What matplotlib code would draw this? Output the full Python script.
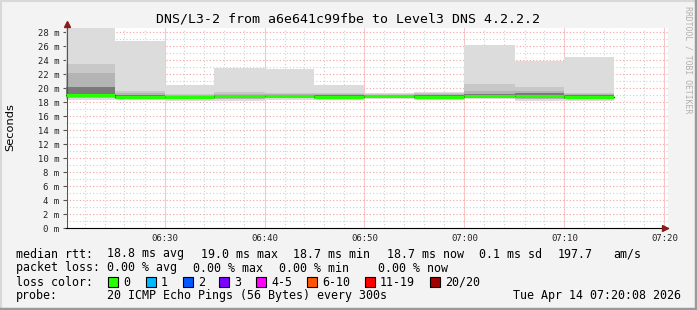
import matplotlib
matplotlib.use("Agg")
import matplotlib.pyplot as plt
from matplotlib.patches import Rectangle
from matplotlib.lines import Line2D

W, H = 697, 310

# ---------------- data ----------------
block_start = ["06:20", "06:25", "06:30", "06:35", "06:40", "06:45",
               "06:50", "06:55", "07:00", "07:05", "07:10"]
block_minutes = 5
rtt_max = [28.9, 26.7, 20.5, 22.8, 22.7, 20.4, 19.25, 19.5, 26.1, 23.9, 24.5]
rtt_hi3 = [23.4, 19.6, 19.2, 19.4, 19.3, 19.3, 19.1, 19.3, 20.6, 20.1, 19.3]
rtt_hi2 = [22.1, 19.3, 19.0, 19.2, 19.2, 19.1, 19.0, 19.1, 19.6, 19.6, 19.2]
rtt_hi1 = [20.1, 19.0, 18.8, 19.05, 19.05, 18.95, 18.95, 19.0, 19.1, 19.3, 19.05]
rtt_median = [19.0, 18.75, 18.65, 18.85, 18.9, 18.7, 18.85, 18.75, 18.8, 18.85, 18.65]
rtt_lo1 = [18.7, 18.6, 18.55, 18.6, 18.75, 18.6, 18.7, 18.65, 18.7, 18.7, 18.5]
rtt_lo2 = [18.6, 18.5, 18.45, 18.4, 18.6, 18.5, 18.6, 18.55, 18.6, 18.5, 18.4]
rtt_min = [18.3, 18.3, 18.2, 18.1, 18.3, 18.3, 18.4, 18.35, 18.4, 18.1, 18.2]

xtick_labels = ["06:30", "06:40", "06:50", "07:00", "07:10", "07:20"]
ytick_values = [0, 2, 4, 6, 8, 10, 12, 14, 16, 18, 20, 22, 24, 26, 28]

title = "DNS/L3-2 from a6e641c99fbe to Level3 DNS 4.2.2.2"
loss_labels = ["0", "1", "2", "3", "4-5", "6-10", "11-19", "20/20"]
loss_colors = ["#26ff00", "#00b8ff", "#0059ff", "#7e00ff", "#ff00ff",
               "#ff5500", "#ff0000", "#a10000"]


def to_min(s):
    h, m = s.split(":")
    return (int(h) - 6) * 60 + int(m) - 20  # minutes after 06:20


starts = [to_min(s) for s in block_start]
xticks = [to_min(s) for s in xtick_labels]

# ---------------- figure ----------------
fig = plt.figure(figsize=(W / 100, H / 100), dpi=100)
fig.patch.set_facecolor("#f3f3f3")

ax_l, ax_r, ax_t, ax_b = 66, 668, 27.7, 228
ax = fig.add_axes([ax_l / W, 1 - ax_b / H, (ax_r - ax_l) / W, (ax_b - ax_t) / H])
ax.set_facecolor("white")
x0 = (ax_l - 64.5) / 10.0
x1 = (ax_r - 64.5) / 10.0
ax.set_xlim(x0, x1)
ax.set_ylim(0, (ax_b - ax_t) / 7.0)

# grid
red = "#f2a0a0"
gray = "#d0d0d0"
dot = (0, (1, 2))
for v in range(1, 29):
    ax.axhline(v, color=red if v % 2 == 0 else gray, lw=0.8, ls=dot, zorder=1)
m = 0
while m <= 60:
    if m > x0:
        ax.axvline(m, color=red if m % 10 == 0 else gray, lw=0.8,
                   ls=dot if m % 10 else "-", zorder=1, alpha=1 if m % 10 else 0.6)
    m += 2

# smoke (step areas)
xs_step = [max(starts[0], x0)] + [s + block_minutes for s in starts]


def step(vals):
    return list(vals) + [vals[-1]]


layers = [(rtt_min, rtt_max, "#dcdcdc"),
          (rtt_lo2, rtt_hi3, "#c8c8c8"),
          (rtt_lo2, rtt_hi2, "#b4b4b4"),
          (rtt_lo1, rtt_hi1, "#7a7a7a")]
for lo, hi, c in layers:
    ax.fill_between(xs_step, step(lo), step(hi), step="post", facecolor=c,
                    edgecolor="none", lw=0, zorder=2)

# median
ax.step(xs_step, step(rtt_median), where="post", color="black", lw=0.8, zorder=3)
for s, v in zip(starts, rtt_median):
    ax.hlines(v, max(s, x0), s + block_minutes, color=loss_colors[0], lw=2.2, zorder=4)

# axes styling
for sp in ["top", "right"]:
    ax.spines[sp].set_visible(False)
ax.spines["left"].set_color("#555555")
ax.spines["left"].set_position(("data", x0 + 0.05))
ax.spines["bottom"].set_color("black")
ax.set_yticks(ytick_values)
ax.set_yticklabels([f"{v} m" for v in ytick_values])
ax.set_xticks(xticks)
ax.set_xticklabels(xtick_labels)
ax.tick_params(axis="y", length=3, width=0.8, color="#555555", pad=2,
               labelsize=6.4, labelcolor="#222222")
ax.tick_params(axis="x", length=0, pad=4, labelsize=6.4, labelcolor="#222222")
for lab in ax.get_xticklabels() + ax.get_yticklabels():
    lab.set_family("DejaVu Sans Mono")

# arrows
ax.plot([x0 + 0.05], [1.02], marker="^", color="#8b1a1a", ms=4.5,
        transform=ax.get_xaxis_transform(), clip_on=False, zorder=5)
ax.plot([60.1], [0], marker=">", color="#8b1a1a", ms=4.5, clip_on=False, zorder=5)


def ftext(x, y, s, **kw):
    kw.setdefault("family", "DejaVu Sans Mono")
    kw.setdefault("fontsize", 8.35)
    kw.setdefault("va", "center")
    fig.text(x / W, 1 - y / H, s, **kw)


ftext(348.5, 19, title, fontsize=9.5, ha="center")
ftext(10.5, 127, "Seconds", family="DejaVu Sans", fontsize=8.2, rotation=90, ha="center")
ftext(688, 60, "RRDTOOL / TOBI OETIKER", fontsize=5.9, rotation=270, ha="center",
      color="#b0b0b0")

# legend lines
ftext(16, 254, "median rtt:")
ftext(107, 254, "18.8 ms avg")
ftext(201, 254, "19.0 ms max")
ftext(292.7, 254, "18.7 ms min")
ftext(386.7, 254, "18.7 ms now")
ftext(479, 254, "0.1 ms sd")
ftext(558, 254, "197.7")
ftext(613, 254, "am/s")

ftext(16, 268, "packet loss:")
ftext(107, 268, "0.00 % avg")
ftext(193, 268, "0.00 % max")
ftext(279, 268, "0.00 % min")
ftext(378, 268, "0.00 % now")

ftext(16, 282, "loss color:")
box_x = [108, 146, 183, 219, 256, 307, 365, 430]
for bx, lab, c in zip(box_x, loss_labels, loss_colors):
    fig.patches.append(Rectangle((bx / W, 1 - 287 / H), 10 / W, 10 / H,
                                 facecolor=c, edgecolor="black", lw=0.8,
                                 transform=fig.transFigure, figure=fig))
    ftext(bx + 15, 282, lab)

ftext(16, 296, "probe:")
ftext(107, 296, "20 ICMP Echo Pings (56 Bytes) every 300s")
ftext(513, 296, "Tue Apr 14 07:20:08 2026")

# frame
def fline(xs, ys, c, lw):
    fig.lines.append(Line2D([x / W for x in xs], [1 - y / H for y in ys], color=c, lw=lw,
                            transform=fig.transFigure, figure=fig))

fline([0.5, 0.5, W], [H, 0.5, 0.5], "#d8d8d8", 1.5)
fline([0, W - 1, W - 1], [H - 1, H - 1, 0], "#9a9a9a", 2.5)

fig.savefig("out.png", dpi=100, facecolor=fig.get_facecolor())
